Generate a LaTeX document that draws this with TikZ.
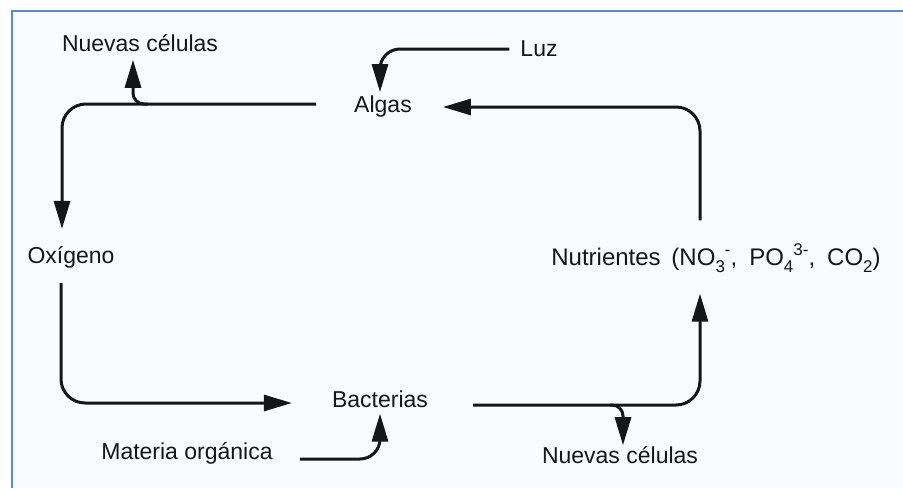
\documentclass[tikz,border=0pt]{standalone}
\usepackage{fontspec}
\setmainfont{Liberation Sans}
\usetikzlibrary{arrows.meta,calc}
\definecolor{bordc}{RGB}{84,139,214}
\definecolor{bgc}{RGB}{248,252,254}
\definecolor{inkc}{RGB}{20,22,24}
\newcommand{\mysub}[1]{\raisebox{-0.28em}{\fontsize{17}{17}\selectfont #1}}
\newcommand{\mysup}[1]{\raisebox{0.42em}{\fontsize{17}{17}\selectfont #1}}
\begin{document}
\begin{tikzpicture}[x=1pt,y=-1pt,
  lbl/.style={inner sep=0pt, text=inkc, font=\fontsize{23}{27}\selectfont},
  flow/.style={draw=inkc, line width=3pt, rounded corners=24pt,
    -{Triangle[length=28pt,width=16pt]}},
  branch/.style={flow, rounded corners=11pt}]
\useasboundingbox (0,0) rectangle (903,488);
\fill[white] (0,0) rectangle (903,488);
\fill[bgc] (12,11) rectangle (903,488);
\draw[bordc, line width=2pt] (12,488) -- (12,11) -- (903,11);

\node[lbl] (nuevas1) at (140,43) {Nuevas células};
\node[lbl] (algas) at (383,107) {Algas};
\node[lbl] (luz) at (539,49) {Luz};
\node[lbl] (oxigeno) at (71,257) {Oxígeno};
\node[lbl] (bacterias) at (380,399) {Bacterias};
\node[lbl] (materia) at (187,453) {Materia orgánica};
\node[lbl, font=\fontsize{24}{28}\selectfont] (nutrientes) at (716,258)
  {Nutrientes\hspace{0.45em}(NO\mysub{3}\mysup{-},\hspace{0.5em}PO\mysub{4}\mysup{3-},\hspace{0.5em}CO\mysub{2})};
\node[lbl] (nuevas2) at (620,455) {Nuevas células};

% Luz -> Algas
\draw[flow, rounded corners=20pt] ([shift={(-11,0)}]luz.west) -| ([shift={(-3,-4)}]algas.north);
% Algas -> Oxigeno
\draw[flow] ([shift={(-38,-3)}]algas.west) -| ([shift={(-9,-17)}]oxigeno.north);
% branch to Nuevas celulas (top)
\coordinate (b1) at (148,104);
\draw[branch] (b1) -| ([shift={(-7,8)}]nuevas1.south);
% Oxigeno -> Bacterias
\draw[flow] ([shift={(-10,15)}]oxigeno.south) |- ([shift={(-40,4)}]bacterias.west);
% Bacterias -> Nutrientes
\draw[flow] ([shift={(45,6)}]bacterias.east) -| ([shift={(-16,21)}]nutrientes.south);
% branch to Nuevas celulas (bottom)
\coordinate (b2) at (610,405);
\draw[branch] (b2) -| ([shift={(3,-1)}]nuevas2.north);
% Nutrientes -> Algas
\draw[flow] ([shift={(-16,-23)}]nutrientes.north) |- ([shift={(31,0)}]algas.east);
% Materia organica -> Bacterias
\draw[flow, rounded corners=20pt] ([shift={(27,6)}]materia.east) -| ([shift={(0,6)}]bacterias.south);
\end{tikzpicture}
\end{document}
